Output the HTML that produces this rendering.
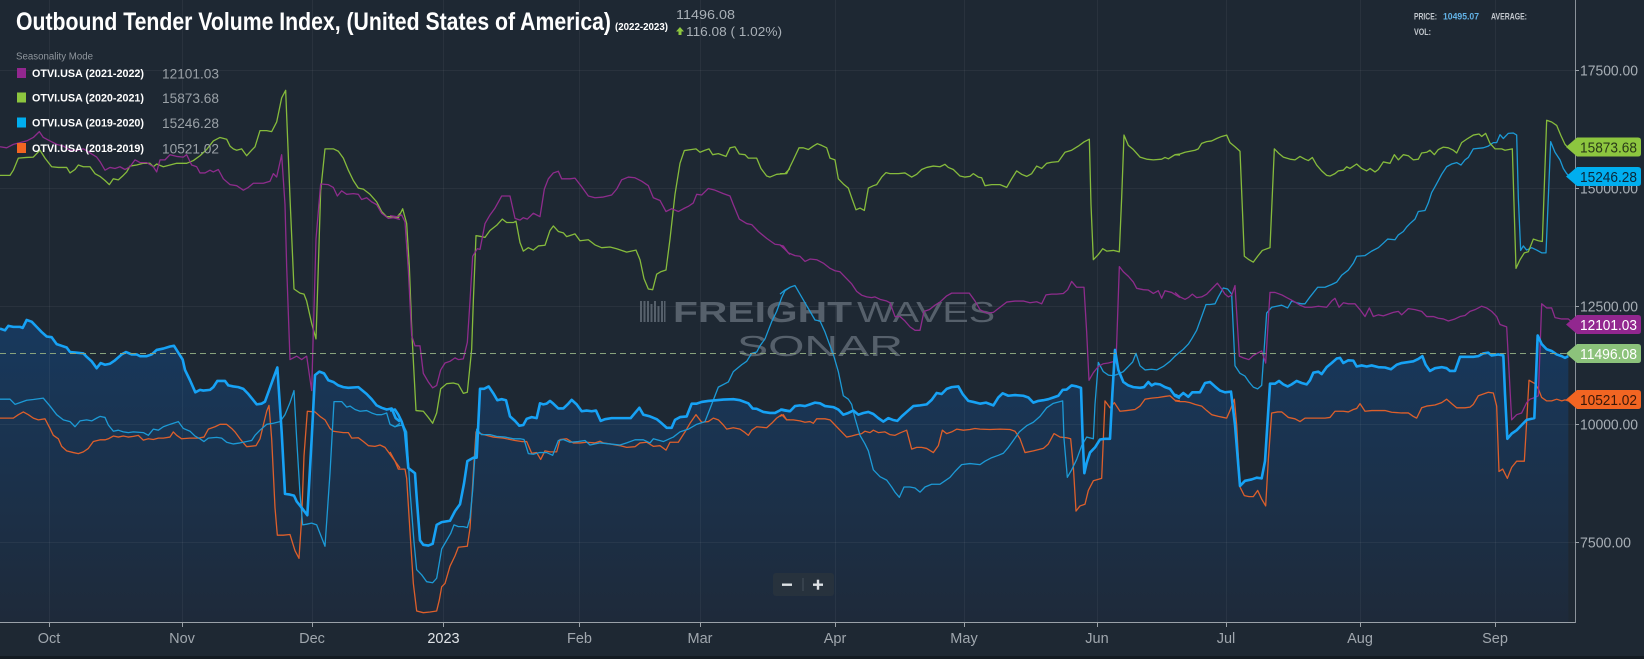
<!DOCTYPE html>
<html><head><meta charset="utf-8"><style>
html,body{margin:0;padding:0;background:#1e2833;}
svg{display:block;}
text{font-family:"Liberation Sans",sans-serif;}
</style></head><body>
<svg width="1644" height="659" viewBox="0 0 1644 659" xmlns="http://www.w3.org/2000/svg">
<defs>
<linearGradient id="af" gradientUnits="userSpaceOnUse" x1="0" y1="697" x2="0" y2="1632">
<stop offset="0" stop-color="#173a60"/><stop offset="1" stop-color="#1e2a3a"/>
</linearGradient>
</defs>
<rect x="0" y="0" width="1644" height="659" fill="#1e2833"/>
<rect x="0" y="656" width="1644" height="3" fill="#141b22"/>

<!-- area fill -->
<g fill="url(#af)" stroke="none">
<g transform="translate(0 60) scale(0.333333 0.344353)"><polygon points="0,780 15,785 25,772 40,775 60,775 68,778 80,755 95,760 110,775 125,790 140,803 155,805 170,825 185,830 200,835 210,848 230,850 250,852 260,862 275,875 290,895 302,880 315,885 330,882 345,872 365,855 378,848 395,855 410,855 420,860 440,860 455,855 470,842 490,838 510,832 522,830 535,850 548,870 555,900 570,930 586,965 600,958 610,960 630,958 640,950 652,932 675,932 685,945 700,948 715,950 730,955 745,970 760,988 770,1000 785,998 795,992 805,965 818,930 832,893 845,1080 855,1260 870,1262 882,1265 890,1282 905,1300 922,1322 935,1100 945,915 958,905 972,910 985,930 1000,935 1015,945 1030,950 1045,952 1075,950 1085,958 1100,970 1115,985 1130,1003 1145,1010 1160,1015 1175,1012 1187,1040 1200,1050 1200,1632 0,1632"/></g>
<g transform="translate(390 60) scale(0.333333 0.344353)"><polygon points="0,1018 15,1015 25,1030 35,1050 45,1080 55,1185 75,1200 80,1270 90,1395 100,1408 115,1410 128,1405 140,1350 155,1342 180,1338 195,1310 210,1290 222,1230 232,1165 250,1155 260,1155 270,955 282,955 296,948 310,968 322,988 335,985 348,988 360,1035 375,1048 388,1062 400,1060 410,1042 425,1037 440,1040 450,997 460,1000 470,998 480,990 490,998 505,1012 520,1012 535,998 545,987 560,1000 575,1020 590,1018 605,1020 618,1018 632,1048 645,1043 665,1040 700,1040 722,1040 735,1025 748,1010 760,1030 780,1035 800,1043 815,1055 830,1068 845,1068 855,1045 870,1037 890,1035 905,998 920,998 935,993 955,990 980,988 1000,986 1030,985 1050,988 1075,997 1088,1012 1100,1013 1120,1022 1140,1025 1155,1025 1175,1015 1200,1020 1200,1632 0,1632"/></g>
<g transform="translate(780 60) scale(0.333333 0.344353)"><polygon points="0,1015 15,1018 30,1020 45,1005 60,1003 75,1005 90,1000 105,995 120,997 135,1005 160,1008 175,1015 190,1030 205,1025 220,1018 235,1030 250,1025 265,1022 280,1028 295,1040 310,1050 325,1040 338,1045 352,1048 365,1035 380,1022 400,1005 420,1003 440,1000 455,987 470,967 485,970 500,955 515,950 535,948 548,970 565,990 580,993 600,998 618,995 640,1003 655,980 668,968 685,975 705,973 730,975 745,980 760,995 775,990 790,988 805,985 820,980 835,975 848,958 860,957 875,945 890,948 903,952 908,1100 913,1200 920,1170 930,1140 945,1125 960,1102 975,1100 990,1100 997,970 1005,842 1015,900 1030,935 1045,945 1060,950 1080,952 1092,950 1105,935 1115,945 1125,940 1140,942 1155,950 1170,955 1185,975 1200,982 1200,1632 0,1632"/></g>
<g transform="translate(1175 60) scale(0.333333 0.344353)"><polygon points="0,972 12,978 25,967 40,978 52,965 75,965 90,938 105,935 120,948 135,960 150,965 168,963 180,1060 195,1237 210,1222 230,1218 245,1213 260,1215 270,1165 285,940 300,940 312,932 325,942 338,948 350,942 365,932 380,938 395,942 405,930 415,908 430,905 440,912 455,892 470,880 485,867 495,865 505,880 520,872 535,873 545,890 560,887 575,890 590,887 610,892 630,893 648,898 665,885 680,880 695,878 715,875 730,868 742,860 752,885 765,903 780,895 800,892 815,895 825,903 840,903 855,862 875,862 895,862 910,860 925,852 940,850 950,858 970,855 985,858 990,970 997,1100 1010,1085 1025,1075 1040,1060 1055,1045 1078,1040 1088,800 1100,825 1115,840 1130,845 1145,855 1160,860 1170,865 1180,860 1180,1632 0,1632"/></g>
</g>

<!-- grid -->
<g stroke="#ffffff" stroke-opacity="0.05" stroke-width="1">
<line x1="0" y1="70.5" x2="1575" y2="70.5"/><line x1="0" y1="188.5" x2="1575" y2="188.5"/><line x1="0" y1="306.5" x2="1575" y2="306.5"/><line x1="0" y1="424.5" x2="1575" y2="424.5"/><line x1="0" y1="542.5" x2="1575" y2="542.5"/>
<line x1="49.5" y1="0" x2="49.5" y2="622"/><line x1="182.5" y1="0" x2="182.5" y2="622"/><line x1="312.5" y1="0" x2="312.5" y2="622"/><line x1="443.5" y1="0" x2="443.5" y2="622"/><line x1="579.5" y1="0" x2="579.5" y2="622"/><line x1="700.5" y1="0" x2="700.5" y2="622"/><line x1="835.5" y1="0" x2="835.5" y2="622"/><line x1="964.5" y1="0" x2="964.5" y2="622"/><line x1="1097.5" y1="0" x2="1097.5" y2="622"/><line x1="1226.5" y1="0" x2="1226.5" y2="622"/><line x1="1360.5" y1="0" x2="1360.5" y2="622"/><line x1="1495.5" y1="0" x2="1495.5" y2="622"/>
</g>

<!-- watermark -->
<g fill="#56606b">
<rect x="640" y="301" width="2" height="21"/><rect x="643.5" y="301" width="2" height="21"/><rect x="647" y="301" width="2" height="21"/><rect x="650.5" y="304" width="2" height="18"/><rect x="654" y="301" width="2" height="21"/><rect x="657.5" y="306" width="2" height="16"/><rect x="661" y="301" width="2" height="21"/><rect x="664" y="301" width="1.5" height="21"/>
<text x="673" y="322" font-size="29" font-weight="bold" textLength="179" lengthAdjust="spacingAndGlyphs">FREIGHT</text>
<text x="857" y="322" font-size="29" textLength="138" lengthAdjust="spacingAndGlyphs">WAVES</text>
<text x="737" y="356" font-size="29" textLength="166" lengthAdjust="spacingAndGlyphs">SONAR</text>
</g>

<!-- thin series -->
<g fill="none" stroke-width="1.3" stroke-linejoin="round">
<!-- orange 2018-2019 -->
<g stroke="#dd5f2b">
<g transform="translate(0 60) scale(0.333333 0.344353)"><polyline vector-effect="non-scaling-stroke" points="0,1040 20,1040 40,1040 55,1030 70,1022 85,1030 100,1040 115,1045 135,1042 150,1070 160,1090 175,1100 185,1122 200,1135 220,1140 235,1143 250,1138 265,1128 280,1108 300,1103 315,1103 325,1100 340,1092 355,1095 370,1092 385,1095 400,1093 415,1090 430,1104 445,1100 460,1102 475,1098 490,1098 510,1095 520,1080 530,1090 545,1100 570,1098 595,1098 612,1095 625,1072 645,1065 660,1058 680,1058 695,1070 705,1080 720,1100 740,1123 768,1120 780,1100 790,1060 800,1020 807,1003 815,1100 825,1300 832,1380 850,1380 870,1378 885,1425 897,1447 905,1330 912,1150 922,1020 945,1022 960,1035 975,1045 990,1070 1000,1078 1030,1082 1045,1082 1055,1098 1075,1097 1090,1108 1105,1120 1125,1122 1140,1118 1155,1125 1170,1145 1185,1165 1200,1185"/></g>
<g transform="translate(390 60) scale(0.333333 0.344353)"><polyline vector-effect="non-scaling-stroke" points="0,1138 15,1165 25,1188 45,1188 50,1215 60,1370 70,1520 76,1568 80,1600 100,1605 120,1603 140,1600 148,1568 155,1530 165,1520 180,1470 195,1440 205,1415 232,1412 240,1360 250,1200 258,1080 270,1085 290,1090 310,1095 340,1098 375,1105 395,1108 410,1108 425,1142 440,1140 452,1160 465,1135 480,1138 500,1138 510,1102 530,1100 550,1112 570,1112 590,1110 615,1112 630,1107 640,1112 660,1115 690,1120 710,1125 735,1123 750,1112 770,1110 790,1122 810,1120 828,1133 840,1110 865,1110 885,1080 900,1055 918,1030 935,1052 955,1050 970,1040 985,1045 1000,1060 1010,1072 1030,1068 1050,1072 1065,1082 1075,1090 1085,1075 1100,1065 1130,1068 1145,1055 1160,1040 1175,1030 1190,1045 1200,1045"/></g>
<g transform="translate(780 60) scale(0.333333 0.344353)"><polyline vector-effect="non-scaling-stroke" points="0,1035 10,1030 20,1045 40,1045 60,1048 75,1052 90,1050 100,1055 110,1042 135,1042 150,1045 165,1060 180,1075 200,1095 215,1092 230,1088 245,1085 255,1078 270,1082 280,1075 295,1082 315,1080 330,1088 345,1090 360,1083 380,1075 395,1130 410,1125 425,1125 440,1128 460,1140 475,1120 487,1075 500,1085 515,1080 530,1072 550,1075 570,1073 585,1070 600,1072 630,1073 660,1072 690,1073 705,1078 720,1100 735,1140 760,1135 790,1128 805,1115 822,1085 840,1095 860,1097 872,1100 880,1180 888,1310 900,1295 915,1290 925,1250 940,1222 965,1215 975,990 990,1010 1003,995 1020,1020 1040,1018 1065,1015 1080,1005 1095,985 1115,982 1135,980 1155,977 1170,975 1185,988 1200,990"/></g>
<g transform="translate(1175 60) scale(0.333333 0.344353)"><polyline vector-effect="non-scaling-stroke" points="0,990 15,992 30,992 45,995 60,1000 80,1005 95,1018 110,1030 130,1035 145,1038 155,1040 165,1018 178,985 185,1060 195,1240 208,1265 222,1268 235,1268 248,1250 260,1275 272,1295 280,1160 290,1025 308,1022 320,1022 330,1030 340,1038 360,1042 375,1050 390,1040 410,1040 430,1040 450,1040 465,1038 480,1020 505,1020 520,1022 535,1015 545,1012 555,998 570,1020 590,1018 610,1018 630,1018 650,1023 680,1025 700,1025 715,1035 725,1040 740,1010 755,1005 780,1002 800,995 815,985 830,998 845,1010 870,1010 885,1008 895,1000 910,975 925,970 940,965 955,967 965,1005 972,1195 983,1188 997,1215 1010,1183 1025,1165 1048,1165 1055,1050 1062,930 1080,940 1090,955 1100,980 1115,990 1130,990 1145,985 1160,990 1170,987 1180,990"/></g>
</g>
<!-- thin blue 2019-2020 -->
<g stroke="#1c9ad6">
<g transform="translate(0 60) scale(0.333333 0.344353)"><polyline vector-effect="non-scaling-stroke" points="0,985 30,985 45,1000 60,995 80,988 100,986 130,982 150,1005 170,1030 190,1045 210,1050 225,1065 240,1048 260,1045 275,1048 290,1040 300,1035 315,1038 325,1060 340,1078 355,1075 370,1080 385,1082 400,1080 430,1082 445,1090 460,1072 475,1075 490,1065 510,1058 535,1050 550,1070 570,1078 585,1092 600,1100 612,1108 625,1098 650,1096 665,1098 680,1110 700,1115 720,1112 740,1108 755,1105 765,1090 780,1075 800,1058 820,1055 840,1050 855,1030 870,995 882,960 890,1100 900,1260 908,1350 920,1348 935,1345 950,1350 975,1412 990,1200 1002,992 1025,992 1040,1008 1050,1005 1065,1015 1080,1020 1100,1018 1115,1025 1130,1030 1145,1030 1160,1025 1170,1058 1185,1065 1200,1055"/></g>
<g transform="translate(390 60) scale(0.333333 0.344353)"><polyline vector-effect="non-scaling-stroke" points="0,1058 15,1065 25,1062 40,1060 50,1080 60,1250 72,1400 80,1480 95,1495 110,1515 128,1518 140,1505 155,1420 170,1395 182,1375 192,1350 205,1355 220,1355 232,1358 240,1330 248,1250 260,1072 275,1088 300,1088 320,1093 345,1095 370,1100 390,1100 402,1102 415,1143 430,1145 448,1140 470,1140 488,1148 505,1105 520,1102 540,1110 565,1108 585,1105 600,1118 630,1112 660,1115 690,1118 710,1112 735,1103 760,1103 780,1112 790,1100 820,1108 850,1095 870,1080 895,1072 920,1058 945,1050 965,1000 985,950 1015,935 1030,905 1055,885 1070,875 1085,852 1100,848 1110,830 1125,810 1135,785 1145,760 1160,730 1175,690 1185,670 1200,660"/></g>
<g transform="translate(780 60) scale(0.333333 0.344353)"><polyline vector-effect="non-scaling-stroke" points="0,680 15,668 30,660 45,655 60,680 75,705 90,730 105,755 120,758 135,790 150,830 160,855 175,905 190,975 205,985 215,1000 225,1040 240,1090 255,1115 265,1135 280,1190 300,1210 320,1220 335,1240 345,1255 358,1270 372,1240 390,1240 405,1243 420,1255 435,1240 455,1232 480,1232 495,1222 510,1212 525,1195 545,1175 570,1172 600,1175 615,1165 635,1155 655,1148 670,1142 685,1125 700,1105 718,1080 740,1062 760,1052 780,1035 800,1010 820,997 848,990 852,1100 862,1212 875,1190 890,1160 905,1120 920,1095 940,1100 945,1000 955,878 970,905 985,915 1000,917 1015,912 1030,905 1045,890 1058,877 1068,852 1080,888 1095,900 1115,898 1130,900 1150,890 1170,875 1185,860 1200,848"/></g>
<g transform="translate(1175 60) scale(0.333333 0.344353)"><polyline vector-effect="non-scaling-stroke" points="0,860 15,848 25,840 40,825 50,810 65,785 80,745 93,710 105,710 120,708 130,688 145,662 158,665 170,680 180,888 195,910 210,918 222,935 235,950 248,955 260,945 275,735 290,718 305,715 320,712 338,720 350,700 365,705 380,708 390,708 405,688 428,660 450,660 470,652 485,645 500,625 520,610 535,590 545,570 570,568 590,555 610,545 625,532 638,520 660,522 670,508 685,498 695,485 705,475 720,462 730,440 750,437 760,415 770,385 780,368 790,350 800,332 815,310 830,302 845,298 858,305 870,290 880,283 895,258 925,255 940,250 955,240 965,240 975,217 985,228 1000,213 1015,212 1025,218 1030,400 1037,553 1045,540 1055,552 1070,545 1085,552 1100,560 1113,560 1127,237 1140,268 1155,290 1165,315 1175,330 1180,335"/></g>
</g>
<!-- green 2020-2021 -->
<g stroke="#86bb3c">
<g transform="translate(0 60) scale(0.333333 0.344353)"><polyline vector-effect="non-scaling-stroke" points="0,335 30,335 40,320 55,285 80,283 100,282 120,262 135,285 155,310 175,312 200,312 210,328 225,318 235,305 250,310 270,310 285,330 300,338 315,350 328,362 340,345 355,348 370,335 380,325 390,308 410,305 430,300 450,300 460,310 470,302 490,310 510,305 530,300 560,300 580,292 600,278 620,260 640,235 660,225 680,230 690,250 700,258 710,262 725,258 740,278 755,262 765,252 780,205 800,205 815,208 830,180 845,110 857,88 870,400 882,665 900,677 912,680 920,700 935,765 948,810 955,600 962,380 975,258 1000,258 1015,265 1030,285 1045,320 1060,350 1075,372 1090,375 1110,390 1130,412 1145,440 1160,455 1175,455 1190,458 1200,445"/></g>
<g transform="translate(390 60) scale(0.333333 0.344353)"><polyline vector-effect="non-scaling-stroke" points="0,455 15,458 25,458 38,432 50,475 58,600 66,800 78,1018 100,1020 115,1038 128,1055 140,1025 152,955 170,940 190,938 205,942 220,968 232,965 245,840 250,700 258,510 270,512 285,515 300,495 320,480 337,462 350,472 370,472 378,468 390,530 400,555 415,545 430,552 445,540 465,538 480,495 490,482 505,498 520,502 530,513 555,505 570,525 595,522 615,537 635,545 660,543 680,548 710,558 738,552 750,580 762,635 775,665 788,667 800,622 812,615 828,610 840,520 855,390 870,300 883,263 905,260 918,258 930,268 945,262 957,258 968,275 985,272 1008,280 1020,255 1035,252 1048,273 1065,275 1075,285 1100,285 1113,315 1130,337 1140,340 1160,332 1185,330 1200,315"/></g>
<g transform="translate(780 60) scale(0.333333 0.344353)"><polyline vector-effect="non-scaling-stroke" points="0,330 20,330 40,290 57,255 70,255 85,260 100,250 112,243 125,248 140,255 150,285 165,290 175,345 190,360 205,372 215,400 228,435 240,430 253,437 265,372 280,365 290,362 305,340 318,327 330,330 355,330 375,328 395,340 410,332 425,318 440,312 460,308 480,310 495,303 505,312 520,318 540,337 555,340 570,338 580,330 595,340 605,342 615,365 635,362 660,362 680,370 695,345 710,322 725,332 740,338 755,330 770,308 785,315 800,300 815,297 835,295 855,268 875,262 895,250 912,238 928,230 933,420 940,580 955,565 968,548 980,555 1000,553 1018,557 1025,400 1032,218 1045,248 1060,260 1080,282 1100,288 1120,290 1145,288 1155,283 1165,287 1185,275 1200,276"/></g>
<g transform="translate(1175 60) scale(0.333333 0.344353)"><polyline vector-effect="non-scaling-stroke" points="0,275 15,273 30,268 45,265 60,262 70,258 80,242 95,237 110,235 125,228 140,222 155,218 165,240 180,252 195,265 208,570 222,580 235,587 248,570 262,553 285,545 298,258 310,270 325,282 345,288 360,290 375,280 390,288 400,292 412,283 425,305 440,322 455,335 465,337 480,330 490,322 505,320 515,310 525,315 545,302 560,315 575,322 585,315 600,325 610,318 625,296 645,300 658,275 670,290 685,275 700,278 715,290 730,288 740,270 755,268 765,262 778,275 790,260 805,253 820,255 835,262 845,270 860,240 878,228 895,218 912,215 920,222 932,213 945,242 960,258 980,258 990,262 1012,258 1018,450 1023,605 1035,580 1048,560 1060,557 1075,520 1090,525 1102,527 1115,175 1130,180 1145,190 1158,220 1170,245 1180,255"/></g>
</g>
<!-- purple 2021-2022 -->
<g stroke="#8e2c8c">
<g transform="translate(0 60) scale(0.333333 0.344353)"><polyline vector-effect="non-scaling-stroke" points="0,252 20,255 40,245 60,240 80,235 100,225 118,208 130,225 150,235 170,245 190,250 210,262 230,262 250,258 270,270 290,282 300,295 315,320 330,312 345,315 360,310 375,318 390,310 405,290 420,298 440,298 460,310 470,325 480,290 495,290 510,275 530,280 550,282 560,275 575,305 590,310 600,328 615,328 630,320 640,325 655,318 670,345 690,362 710,365 730,378 745,370 760,358 790,358 810,352 820,330 830,340 845,275 855,420 860,600 870,870 890,860 905,870 920,860 935,960 948,520 962,360 985,362 1000,370 1012,395 1025,380 1040,390 1060,388 1075,390 1085,405 1100,400 1115,412 1130,420 1145,445 1165,460 1180,458 1200,463"/></g>
<g transform="translate(390 60) scale(0.333333 0.344353)"><polyline vector-effect="non-scaling-stroke" points="0,452 20,455 35,450 45,470 55,610 65,800 75,830 90,830 100,910 115,935 128,952 140,945 152,900 165,880 180,875 195,865 205,870 220,868 232,820 240,700 248,570 262,548 270,550 285,475 300,450 315,430 335,395 360,395 375,460 390,465 400,458 412,462 430,445 450,455 463,375 475,345 490,328 505,323 515,345 540,345 555,343 575,368 595,395 615,400 640,398 665,392 680,375 695,348 715,340 735,342 755,352 775,365 790,400 810,408 828,440 845,432 865,440 880,432 895,425 910,415 920,390 935,392 955,373 975,378 1000,388 1020,395 1030,420 1048,462 1070,475 1085,478 1105,498 1130,518 1155,535 1170,537 1185,550 1200,565"/></g>
<g transform="translate(780 60) scale(0.333333 0.344353)"><polyline vector-effect="non-scaling-stroke" points="0,538 10,540 25,560 45,568 60,570 75,585 90,578 110,580 130,590 150,605 165,612 180,615 200,635 215,650 230,672 245,683 260,688 275,690 285,688 300,695 320,700 330,705 345,745 360,745 375,758 390,775 405,785 420,785 432,730 448,725 465,712 480,703 500,685 515,677 545,677 568,677 585,700 600,725 620,735 640,733 660,718 680,703 705,700 730,700 750,705 770,702 785,708 798,682 815,680 830,680 850,678 863,667 875,643 890,660 912,660 920,790 927,930 940,908 955,890 970,882 985,880 1000,876 1008,880 1018,600 1030,615 1045,628 1060,645 1070,663 1090,667 1105,668 1120,678 1135,670 1145,692 1155,670 1175,675 1200,690"/></g>
<g transform="translate(1175 60) scale(0.333333 0.344353)"><polyline vector-effect="non-scaling-stroke" points="0,675 15,688 30,695 40,690 52,680 65,690 80,688 95,680 110,665 127,648 140,665 150,680 160,688 170,683 180,655 193,860 205,865 222,870 235,858 250,850 260,845 272,880 285,675 300,675 320,682 335,690 355,700 375,712 390,718 410,718 430,715 455,718 470,700 480,692 492,718 505,705 520,708 540,708 555,725 570,745 583,720 595,745 610,740 625,743 640,738 655,733 670,730 680,740 700,722 720,725 740,730 755,745 775,745 790,750 805,752 820,758 840,752 855,745 870,742 885,730 900,725 920,715 935,720 950,730 965,745 975,768 995,775 1010,1045 1025,1030 1040,1025 1055,995 1065,985 1080,980 1090,975 1100,708 1115,720 1130,720 1140,748 1160,752 1180,752 1200,768"/></g>
</g>
</g>

<!-- thick main series 2022-2023 -->
<g fill="none" stroke="#17a2f5" stroke-width="2.6" stroke-linejoin="round">
<g transform="translate(0 60) scale(0.333333 0.344353)"><polyline vector-effect="non-scaling-stroke" points="0,780 15,785 25,772 40,775 60,775 68,778 80,755 95,760 110,775 125,790 140,803 155,805 170,825 185,830 200,835 210,848 230,850 250,852 260,862 275,875 290,895 302,880 315,885 330,882 345,872 365,855 378,848 395,855 410,855 420,860 440,860 455,855 470,842 490,838 510,832 522,830 535,850 548,870 555,900 570,930 586,965 600,958 610,960 630,958 640,950 652,932 675,932 685,945 700,948 715,950 730,955 745,970 760,988 770,1000 785,998 795,992 805,965 818,930 832,893 845,1080 855,1260 870,1262 882,1265 890,1282 905,1300 922,1322 935,1100 945,915 958,905 972,910 985,930 1000,935 1015,945 1030,950 1045,952 1075,950 1085,958 1100,970 1115,985 1130,1003 1145,1010 1160,1015 1175,1012 1187,1040 1200,1050"/></g>
<g transform="translate(390 60) scale(0.333333 0.344353)"><polyline vector-effect="non-scaling-stroke" points="0,1018 15,1015 25,1030 35,1050 45,1080 55,1185 75,1200 80,1270 90,1395 100,1408 115,1410 128,1405 140,1350 155,1342 180,1338 195,1310 210,1290 222,1230 232,1165 250,1155 260,1155 270,955 282,955 296,948 310,968 322,988 335,985 348,988 360,1035 375,1048 388,1062 400,1060 410,1042 425,1037 440,1040 450,997 460,1000 470,998 480,990 490,998 505,1012 520,1012 535,998 545,987 560,1000 575,1020 590,1018 605,1020 618,1018 632,1048 645,1043 665,1040 700,1040 722,1040 735,1025 748,1010 760,1030 780,1035 800,1043 815,1055 830,1068 845,1068 855,1045 870,1037 890,1035 905,998 920,998 935,993 955,990 980,988 1000,986 1030,985 1050,988 1075,997 1088,1012 1100,1013 1120,1022 1140,1025 1155,1025 1175,1015 1200,1020"/></g>
<g transform="translate(780 60) scale(0.333333 0.344353)"><polyline vector-effect="non-scaling-stroke" points="0,1015 15,1018 30,1020 45,1005 60,1003 75,1005 90,1000 105,995 120,997 135,1005 160,1008 175,1015 190,1030 205,1025 220,1018 235,1030 250,1025 265,1022 280,1028 295,1040 310,1050 325,1040 338,1045 352,1048 365,1035 380,1022 400,1005 420,1003 440,1000 455,987 470,967 485,970 500,955 515,950 535,948 548,970 565,990 580,993 600,998 618,995 640,1003 655,980 668,968 685,975 705,973 730,975 745,980 760,995 775,990 790,988 805,985 820,980 835,975 848,958 860,957 875,945 890,948 903,952 908,1100 913,1200 920,1170 930,1140 945,1125 960,1102 975,1100 990,1100 997,970 1005,842 1015,900 1030,935 1045,945 1060,950 1080,952 1092,950 1105,935 1115,945 1125,940 1140,942 1155,950 1170,955 1185,975 1200,982"/></g>
<g transform="translate(1175 60) scale(0.333333 0.344353)"><polyline vector-effect="non-scaling-stroke" points="0,972 12,978 25,967 40,978 52,965 75,965 90,938 105,935 120,948 135,960 150,965 168,963 180,1060 195,1237 210,1222 230,1218 245,1213 260,1215 270,1165 285,940 300,940 312,932 325,942 338,948 350,942 365,932 380,938 395,942 405,930 415,908 430,905 440,912 455,892 470,880 485,867 495,865 505,880 520,872 535,873 545,890 560,887 575,890 590,887 610,892 630,893 648,898 665,885 680,880 695,878 715,875 730,868 742,860 752,885 765,903 780,895 800,892 815,895 825,903 840,903 855,862 875,862 895,862 910,860 925,852 940,850 950,858 970,855 985,858 990,970 997,1100 1010,1085 1025,1075 1040,1060 1055,1045 1078,1040 1088,800 1100,825 1115,840 1130,845 1145,855 1160,860 1170,865 1180,860"/></g>
</g>

<!-- dashed current line -->
<line x1="0" y1="353.5" x2="1566" y2="353.5" stroke="#88a27c" stroke-width="1" stroke-dasharray="6 4"/>

<!-- axes -->
<line x1="0" y1="622.5" x2="1575" y2="622.5" stroke="#9aa1a8" stroke-width="1"/>
<line x1="1575.5" y1="0" x2="1575.5" y2="623" stroke="#8a9199" stroke-width="1"/>
<g stroke="#9aa1a8" stroke-width="1">
<line x1="49.5" y1="622" x2="49.5" y2="627"/><line x1="182.5" y1="622" x2="182.5" y2="627"/><line x1="312.5" y1="622" x2="312.5" y2="627"/><line x1="443.5" y1="622" x2="443.5" y2="627"/><line x1="579.5" y1="622" x2="579.5" y2="627"/><line x1="700.5" y1="622" x2="700.5" y2="627"/><line x1="835.5" y1="622" x2="835.5" y2="627"/><line x1="964.5" y1="622" x2="964.5" y2="627"/><line x1="1097.5" y1="622" x2="1097.5" y2="627"/><line x1="1226.5" y1="622" x2="1226.5" y2="627"/><line x1="1360.5" y1="622" x2="1360.5" y2="627"/><line x1="1495.5" y1="622" x2="1495.5" y2="627"/>
<line x1="1575" y1="70.5" x2="1579" y2="70.5"/><line x1="1575" y1="188.5" x2="1579" y2="188.5"/><line x1="1575" y1="306.5" x2="1579" y2="306.5"/><line x1="1575" y1="424.5" x2="1579" y2="424.5"/><line x1="1575" y1="542.5" x2="1579" y2="542.5"/>
</g>
<g font-size="14.5" fill="#a7aeb5">
<text x="1580" y="75.5" textLength="58" lengthAdjust="spacingAndGlyphs">17500.00</text>
<text x="1580" y="193.5" textLength="58" lengthAdjust="spacingAndGlyphs">15000.00</text>
<text x="1580" y="311.5" textLength="58" lengthAdjust="spacingAndGlyphs">12500.00</text>
<text x="1580" y="429.5" textLength="58" lengthAdjust="spacingAndGlyphs">10000.00</text>
<text x="1580" y="547.5" textLength="51" lengthAdjust="spacingAndGlyphs">7500.00</text>
</g>
<g font-size="14.5" fill="#a0a7ae" text-anchor="middle">
<text x="49" y="643">Oct</text><text x="182" y="643">Nov</text><text x="312" y="643">Dec</text><text x="443.5" y="643" fill="#dfe3e7">2023</text><text x="579.5" y="643">Feb</text><text x="700" y="643">Mar</text><text x="835" y="643">Apr</text><text x="964" y="643">May</text><text x="1097" y="643">Jun</text><text x="1226" y="643">Jul</text><text x="1360" y="643">Aug</text><text x="1495" y="643">Sep</text>
</g>

<!-- price tags -->
<g font-size="14.5">
<path d="M1566,147 L1577,137.5 L1638,137.5 Q1641,137.5 1641,140.5 L1641,153.5 Q1641,156.5 1638,156.5 L1577,156.5 Z" fill="#8dc63f"/>
<text x="1580" y="152.5" fill="#2a3a18" textLength="57" lengthAdjust="spacingAndGlyphs">15873.68</text>
<path d="M1566,176.5 L1577,167 L1638,167 Q1641,167 1641,170 L1641,183 Q1641,186 1638,186 L1577,186 Z" fill="#00aeef"/>
<text x="1580" y="182" fill="#0b2738" textLength="57" lengthAdjust="spacingAndGlyphs">15246.28</text>
<path d="M1566,324.5 L1577,315 L1638,315 Q1641,315 1641,318 L1641,331 Q1641,334 1638,334 L1577,334 Z" fill="#92278f"/>
<text x="1580" y="330" fill="#ffffff" textLength="57" lengthAdjust="spacingAndGlyphs">12101.03</text>
<path d="M1566,353.5 L1577,344 L1638,344 Q1641,344 1641,347 L1641,360 Q1641,363 1638,363 L1577,363 Z" fill="#8cc27b"/>
<text x="1580" y="359" fill="#ffffff" textLength="57" lengthAdjust="spacingAndGlyphs">11496.08</text>
<path d="M1566,399.5 L1577,390 L1638,390 Q1641,390 1641,393 L1641,406 Q1641,409 1638,409 L1577,409 Z" fill="#f26522"/>
<text x="1580" y="405" fill="#3a1808" textLength="57" lengthAdjust="spacingAndGlyphs">10521.02</text>
</g>

<!-- zoom buttons -->
<rect x="773" y="573" width="61" height="23" rx="3" fill="#27323d"/>
<rect x="782" y="583.5" width="10" height="2.4" fill="#dde1e5"/>
<rect x="802.5" y="578" width="1" height="13" fill="#44505c"/>
<rect x="813" y="583.5" width="10" height="2.4" fill="#dde1e5"/>
<rect x="816.8" y="579.7" width="2.4" height="10" fill="#dde1e5"/>

<!-- title -->
<text x="16" y="30" font-family="'Liberation Sans Narrow','Liberation Sans',sans-serif" font-weight="bold" font-size="25" fill="#ffffff" textLength="595" lengthAdjust="spacingAndGlyphs">Outbound Tender Volume Index, (United States of America)</text>
<text x="615" y="30" font-weight="bold" font-size="10.5" fill="#ffffff" textLength="53" lengthAdjust="spacingAndGlyphs">(2022-2023)</text>
<text x="676" y="19" font-size="13" fill="#a9b0b7" textLength="59" lengthAdjust="spacingAndGlyphs">11496.08</text>
<path d="M680,27 L684,31.5 L681.5,31.5 L681.5,35 L678.5,35 L678.5,31.5 L676,31.5 Z" fill="#8dc63f"/>
<text x="686" y="36" font-size="13" fill="#a9b0b7" textLength="96" lengthAdjust="spacingAndGlyphs">116.08 ( 1.02%)</text>

<!-- top-right info -->
<g font-size="9.5" font-weight="bold">
<text x="1414" y="19.5" fill="#c3c8ce" textLength="23" lengthAdjust="spacingAndGlyphs">PRICE:</text>
<text x="1443" y="19.5" fill="#62b2e6" textLength="36" lengthAdjust="spacingAndGlyphs">10495.07</text>
<text x="1491" y="19.5" fill="#c3c8ce" textLength="36" lengthAdjust="spacingAndGlyphs">AVERAGE:</text>
<text x="1414" y="35" fill="#c3c8ce" textLength="17" lengthAdjust="spacingAndGlyphs">VOL:</text>
</g>

<!-- legend -->
<text x="16" y="59.5" font-size="10" fill="#8f969d" textLength="77" lengthAdjust="spacingAndGlyphs">Seasonality Mode</text>
<rect x="17" y="68" width="9" height="10" fill="#92278f"/>
<rect x="17" y="92.5" width="9" height="10" fill="#8dc63f"/>
<rect x="17" y="117.5" width="9" height="10" fill="#00aeef"/>
<rect x="17" y="143" width="9" height="10" fill="#f26522"/>
<g font-size="11" font-weight="bold" fill="#ffffff">
<text x="32" y="77" textLength="112" lengthAdjust="spacingAndGlyphs">OTVI.USA (2021-2022)</text>
<text x="32" y="101.5" textLength="112" lengthAdjust="spacingAndGlyphs">OTVI.USA (2020-2021)</text>
<text x="32" y="126.5" textLength="112" lengthAdjust="spacingAndGlyphs">OTVI.USA (2019-2020)</text>
<text x="32" y="152" textLength="112" lengthAdjust="spacingAndGlyphs">OTVI.USA (2018-2019)</text>
</g>
<g font-size="14" fill="#9aa1a7">
<text x="162" y="78.5" textLength="57" lengthAdjust="spacingAndGlyphs">12101.03</text>
<text x="162" y="103" textLength="57" lengthAdjust="spacingAndGlyphs">15873.68</text>
<text x="162" y="128" textLength="57" lengthAdjust="spacingAndGlyphs">15246.28</text>
<text x="162" y="153.5" textLength="57" lengthAdjust="spacingAndGlyphs">10521.02</text>
</g>
</svg>
</body></html>
